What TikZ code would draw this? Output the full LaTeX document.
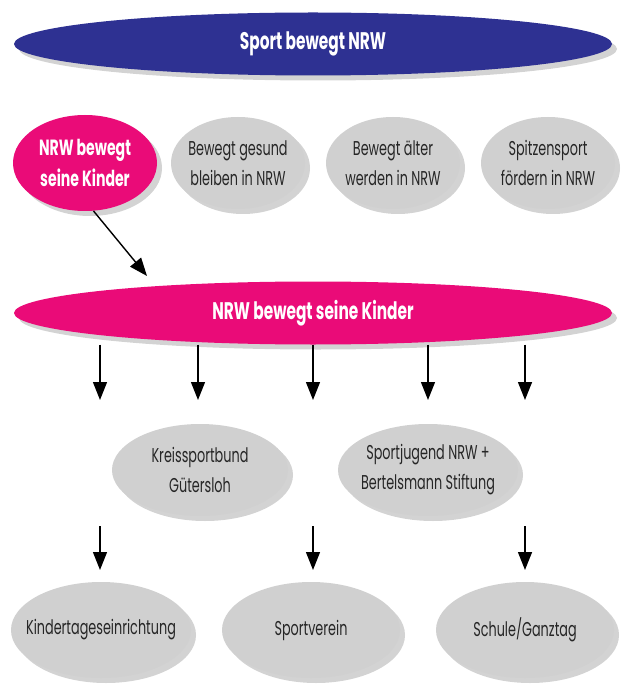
\documentclass[tikz,border=0pt]{standalone}
\usepackage{fontspec}
\setmainfont{Poppins}[FakeStretch=0.64]
\usetikzlibrary{shapes.geometric, shadows, arrows.meta}
\definecolor{nrwblau}{RGB}{46,49,146}
\definecolor{nrwpink}{RGB}{234,11,120}
\definecolor{ovalgrau}{RGB}{208,208,208}
\tikzset{
  oval/.style={ellipse, inner sep=-10pt, align=center,
    drop shadow={shadow xshift=5pt, shadow yshift=-5pt, opacity=0.35}},
  langoval/.style={oval, minimum width=598pt, minimum height=63pt,
    text=white, font=\fontsize{24}{26}\selectfont\bfseries},
  grauoval/.style={oval, fill=ovalgrau, text=black!85,
    minimum width=134pt, minimum height=92pt, font=\fontsize{20}{30}\selectfont},
  pfeil/.style={line width=1.4pt, -{Triangle[width=14pt,length=18pt]}}
}

\begin{document}
\begin{tikzpicture}[x=1pt, y=-1pt]
	\useasboundingbox (0,0) rectangle (631,684);
	% oberste Ebene
	\node[langoval, fill=nrwblau] (sport) at (313,44) {Sport bewegt NRW};
	\node[grauoval, fill=nrwpink, text=white, minimum width=144pt, minimum height=96pt,
		font=\fontsize{22}{31}\selectfont\bfseries] (kinder) at (85,163) {NRW bewegt\\seine Kinder};
	\node[grauoval] (gesund) at (238,163) {Bewegt gesund\\bleiben in NRW};
	\node[grauoval] (aelter) at (393,163) {Bewegt älter\\werden in NRW};
	\node[grauoval] (spitze) at (548,163) {Spitzensport\\fördern in NRW};
	% Programm
	\node[langoval, fill=nrwpink] (mitte) at (313,313) {NRW bewegt seine Kinder};
	\coordinate (p0) at (147,276);
	\draw[pfeil] (kinder.-80) -- (p0);
	\foreach \x [count=\i] in {100,198,313,428,525}{
		\coordinate (a\i) at (\x,400);
		\draw[pfeil] (mitte.south -| a\i) -- (a\i);
	}
	% Partner
	\node[grauoval, minimum width=176pt] (kreis) at (200,470) {Kreissportbund\\Gütersloh};
	\node[grauoval, minimum width=180pt] (jugend) at (428,470) {Sportjugend NRW +\\Bertelsmann Stiftung};
	% Orte
	\node[grauoval, minimum width=180pt, minimum height=96pt, inner xsep=-14pt] (kita) at (101,630) {Kindertageseinrichtung};
	\node[grauoval, minimum width=178pt, minimum height=96pt] (verein) at (311,630) {Sportverein};
	\node[grauoval, minimum width=178pt, minimum height=96pt] (schule) at (525,630) {Schule/Ganztag};
	\coordinate (b1) at (100,526);
	\coordinate (b2) at (313,526);
	\coordinate (b3) at (525,526);
	\draw[pfeil] (b1) -- (b1 |- 0,570);
	\draw[pfeil] (b2) -- (b2 |- 0,570);
	\draw[pfeil] (b3) -- (b3 |- 0,570);
\end{tikzpicture}
\end{document}
